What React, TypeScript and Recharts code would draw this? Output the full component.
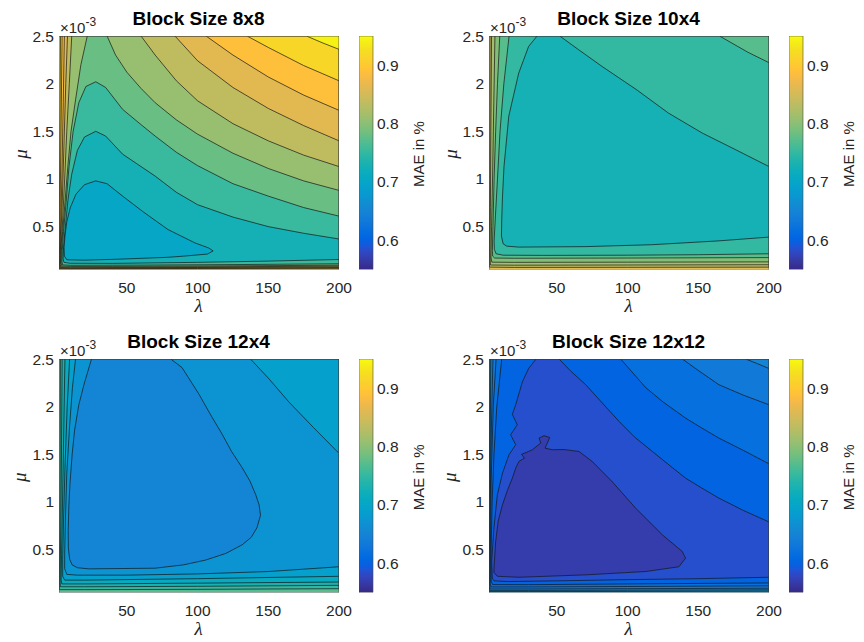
import React from 'react';
import { ScatterChart, Scatter, XAxis, YAxis, BarChart, Bar } from 'recharts';

type Pt = [number, number];

// axes
const lambdaRange: [number, number] = [2, 200];
const muRange: [number, number] = [0.05, 2.5];
const lambdaTicks = [50, 100, 150, 200];
const muTicks = [0.5, 1, 1.5, 2, 2.5];
const maeRange: [number, number] = [0.55, 0.95];
const maeTicks = [0.6, 0.7, 0.8, 0.9];
const titles = ['Block Size 8x8', 'Block Size 10x4', 'Block Size 12x4', 'Block Size 12x12'];

// MAE value of every filled band, innermost first (last one = outermost band)
const levels8x8 = [0.7, 0.727, 0.754, 0.781, 0.808, 0.835, 0.862, 0.889, 0.916, 0.943];
const levels10x4 = [0.728, 0.75, 0.772, 0.794, 0.816, 0.838, 0.86];
const levels12x4 = [0.652, 0.672, 0.69, 0.71, 0.73, 0.75, 0.77];
const levels12x12 = [0.568, 0.585, 0.602, 0.618, 0.635, 0.652, 0.669, 0.686];

// contour regions {MAE < level k} as (lambda, mu*1e3) outlines
const regions8x8: Pt[][] = [
  [[5.6, 0.28], [6.2, 0.4], [7.5, 0.55], [10, 0.7], [14, 0.84], [20, 0.94], [28, 0.98], [36, 0.95], [47, 0.82], [62, 0.65], [79, 0.47], [98, 0.33], [108, 0.275], [111, 0.245], [107, 0.212], [90, 0.19], [79, 0.178], [44, 0.158], [20, 0.148], [7.5, 0.152], [5.8, 0.19]],
  [[200, 0.37], [175, 0.43], [150, 0.5], [125, 0.6], [100, 0.73], [85, 0.86], [70, 1.03], [60, 1.13], [47, 1.26], [35, 1.45], [28, 1.5], [20, 1.44], [15, 1.3], [11, 1.05], [8.5, 0.8], [6.5, 0.5], [5.2, 0.28], [4.9, 0.16], [5.5, 0.125], [10, 0.115], [40, 0.114], [100, 0.125], [150, 0.138], [200, 0.155]],
  [[200, 0.61], [175, 0.7], [150, 0.82], [125, 0.95], [100, 1.14], [85, 1.28], [70, 1.45], [60, 1.57], [47, 1.73], [35, 1.96], [28, 2.02], [21, 1.97], [16, 1.8], [12, 1.5], [9, 1.12], [7, 0.75], [5.2, 0.45], [4.3, 0.25], [4.1, 0.13], [4.6, 0.098], [10, 0.094], [60, 0.096], [130, 0.102], [200, 0.11]],
  [[36, 2.5], [42, 2.3], [50, 2.12], [60, 1.95], [70, 1.8], [85, 1.62], [100, 1.47], [125, 1.27], [150, 1.11], [175, 0.98], [200, 0.88], [200, 0.095], [120, 0.088], [40, 0.083], [10, 0.082], [4, 0.086], [3.5, 0.12], [3.7, 0.25], [4.6, 0.45], [6.2, 0.75], [8.3, 1.14], [10.5, 1.5], [13.7, 1.83], [17.5, 2.2], [22, 2.5]],
  [[60, 2.5], [70, 2.3], [85, 2.03], [100, 1.82], [125, 1.58], [150, 1.4], [175, 1.25], [200, 1.13], [200, 0.085], [120, 0.079], [40, 0.075], [10, 0.074], [3.5, 0.076], [3.0, 0.1], [3.3, 0.25], [4.5, 0.55], [6, 1.0], [7.5, 1.5], [9.3, 2.0], [11, 2.5]],
  [[84, 2.5], [100, 2.24], [125, 1.96], [150, 1.74], [175, 1.56], [200, 1.4], [200, 0.077], [100, 0.071], [10, 0.068], [3, 0.07], [2.7, 0.12], [3.2, 0.35], [4.4, 0.8], [5.6, 1.4], [6.8, 2.0], [8, 2.5]],
  [[106, 2.5], [125, 2.3], [150, 2.07], [175, 1.88], [200, 1.72], [200, 0.07], [100, 0.066], [10, 0.063], [2.7, 0.064], [2.5, 0.12], [3, 0.4], [4, 1.0], [5, 1.8], [5.8, 2.5]],
  [[135, 2.5], [150, 2.38], [175, 2.19], [200, 2.03], [200, 0.064], [100, 0.061], [10, 0.059], [2.3, 0.06], [2.3, 0.2], [2.8, 0.7], [3.5, 1.6], [4.2, 2.5]],
  [[177, 2.5], [188, 2.43], [200, 2.36], [200, 0.058], [100, 0.056], [10, 0.055], [2.1, 0.055], [2.2, 0.5], [2.6, 1.5], [3.1, 2.5]],
];

const regions10x4: Pt[][] = [
  [[36, 2.5], [30, 2.39], [23, 2.11], [16, 1.66], [12.6, 1.13], [11.5, 0.8], [11, 0.57], [10.8, 0.4], [12, 0.32], [14.5, 0.295], [23, 0.285], [70, 0.29], [117, 0.31], [164, 0.35], [200, 0.39], [200, 1.13], [176, 1.31], [153, 1.48], [129, 1.69], [106, 1.94], [82, 2.18], [65, 2.36], [52, 2.5]],
  [[16.2, 2.5], [165, 2.5], [185, 2.33], [200, 2.22], [200, 0.215], [150, 0.205], [100, 0.2], [40, 0.198], [12, 0.2], [7, 0.215], [5.8, 0.26], [5.6, 0.35], [6.5, 0.6], [8, 1.0], [9.8, 1.5], [12.5, 2.0]],
  [[9.6, 2.5], [200, 2.5], [200, 0.175], [100, 0.17], [20, 0.168], [6, 0.17], [4.6, 0.19], [4.4, 0.25], [4.8, 0.5], [5.6, 1.0], [6.7, 1.5], [8, 2.0]],
  [[6.2, 2.5], [200, 2.5], [200, 0.13], [100, 0.127], [20, 0.125], [4, 0.127], [3.4, 0.18], [3.8, 0.5], [4.5, 1.0], [5.4, 1.8]],
  [[3.8, 2.5], [200, 2.5], [200, 0.1], [100, 0.097], [20, 0.095], [3, 0.097], [2.7, 0.25], [3.0, 0.7], [3.3, 1.5]],
  [[2.7, 2.5], [200, 2.5], [200, 0.075], [100, 0.073], [20, 0.072], [2.3, 0.075], [2.3, 0.3], [2.5, 1.0]],
];

const regions12x4: Pt[][] = [
  [[25, 2.5], [20, 2.25], [16, 2.02], [13, 1.75], [11.3, 1.5], [9.8, 1.2], [9, 0.97], [8.5, 0.7], [8.6, 0.52], [9.5, 0.4], [11.3, 0.34], [15, 0.31], [23, 0.298], [70, 0.305], [90, 0.34], [105.6, 0.39], [120, 0.46], [131.5, 0.55], [138, 0.63], [142, 0.73], [144.5, 0.86], [143.5, 0.97], [141, 1.08], [137, 1.22], [131.5, 1.36], [124, 1.53], [117.4, 1.71], [109, 1.92], [101, 2.13], [95, 2.27], [89, 2.41], [81, 2.5]],
  [[13.7, 2.5], [137.4, 2.5], [150, 2.3], [164.5, 2.05], [182, 1.78], [200, 1.51], [200, 0.32], [150, 0.27], [100, 0.245], [50, 0.232], [15, 0.232], [7.5, 0.24], [6, 0.3], [6, 0.45], [6.5, 0.8], [7.5, 1.3], [9.5, 1.8], [11.5, 2.2]],
  [[9.5, 2.5], [200, 2.5], [200, 0.22], [100, 0.195], [20, 0.18], [6, 0.18], [4.6, 0.22], [4.6, 0.4], [5.2, 0.8], [6.3, 1.4], [7.8, 2.0]],
  [[6.2, 2.5], [200, 2.5], [200, 0.16], [100, 0.148], [20, 0.14], [4, 0.14], [3.5, 0.18], [3.8, 0.45], [4.5, 1.0], [5.4, 1.8]],
  [[4.2, 2.5], [200, 2.5], [200, 0.125], [100, 0.115], [20, 0.11], [3, 0.11], [2.8, 0.16], [2.9, 0.3], [3.3, 0.8], [3.8, 1.6]],
  [[3, 2.5], [200, 2.5], [200, 0.09], [100, 0.083], [20, 0.08], [2.3, 0.08], [2.3, 0.2], [2.5, 0.6], [2.8, 1.5]],
];

const regions12x12: Pt[][] = [
  [[5.5, 0.3], [6.7, 0.585], [8.5, 0.8], [11.5, 0.97], [15, 1.12], [18.5, 1.25], [21, 1.36], [23.2, 1.425], [27, 1.46], [25, 1.5], [30, 1.53], [32.7, 1.548], [38.6, 1.618], [37.4, 1.67], [40.9, 1.695], [44.9, 1.677], [43.3, 1.618], [41.6, 1.565], [46.8, 1.548], [55, 1.55], [65.6, 1.53], [75, 1.425], [89.3, 1.21], [105.7, 0.935], [124.6, 0.655], [138.7, 0.48], [141, 0.41], [136.3, 0.32], [112.8, 0.27], [70.4, 0.235], [23.2, 0.21], [7.9, 0.22], [5.5, 0.26]],
  [[35.3, 2.5], [51.5, 2.5], [60, 2.37], [70.4, 2.23], [82, 2.04], [94, 1.845], [105, 1.68], [117.5, 1.53], [130, 1.38], [141, 1.25], [152, 1.15], [164.6, 1.04], [182, 0.91], [200, 0.79], [200, 0.21], [150, 0.195], [100, 0.185], [50, 0.172], [15, 0.165], [5.5, 0.172], [4.3, 0.2], [3.9, 0.375], [5.5, 0.73], [7.9, 1.075], [11.5, 1.3], [16.1, 1.495], [20.9, 1.6], [17.3, 1.705], [22, 1.81], [18.5, 1.92], [20.9, 2.02], [25.6, 2.26], [30, 2.4]],
  [[11, 2.5], [95.1, 2.5], [112.8, 2.2], [125, 2.05], [141, 1.88], [152, 1.78], [164.6, 1.67], [182, 1.54], [200, 1.4], [200, 0.15], [100, 0.14], [30, 0.132], [4.5, 0.133], [3.5, 0.17], [3.4, 0.4], [4.2, 1.0], [5.5, 1.5], [7.5, 2.0]],
  [[7, 2.5], [138.7, 2.5], [150, 2.38], [164.6, 2.23], [182, 2.12], [200, 2.02], [200, 0.12], [100, 0.113], [30, 0.108], [3.5, 0.108], [2.9, 0.14], [2.9, 0.4], [3.5, 1.2], [5, 2.0]],
  [[4.8, 2.5], [183.5, 2.5], [192, 2.45], [200, 2.4], [200, 0.095], [100, 0.09], [30, 0.087], [2.8, 0.087], [2.5, 0.12], [2.6, 0.5], [3.2, 1.4], [4, 2.0]],
  [[3.3, 2.5], [200, 2.5], [200, 0.078], [100, 0.074], [30, 0.072], [2.4, 0.072], [2.3, 0.3], [2.7, 1.3]],
  [[2.6, 2.5], [200, 2.5], [200, 0.064], [100, 0.061], [30, 0.06], [2.2, 0.06], [2.2, 1.0]],
];

const panelData = [
  { levels: levels8x8, regions: regions8x8 },
  { levels: levels10x4, regions: regions10x4 },
  { levels: levels12x4, regions: regions12x4 },
  { levels: levels12x12, regions: regions12x12 },
];

// parula colormap, 64 steps
const PARULA = [
  [0.2081, 0.1663, 0.5292], [0.2116, 0.1898, 0.5777], [0.2123, 0.2138, 0.627], [0.2081, 0.2386, 0.6771],
  [0.1959, 0.2645, 0.7279], [0.1707, 0.2919, 0.7792], [0.1253, 0.3242, 0.8303], [0.0591, 0.3598, 0.8683],
  [0.0117, 0.3875, 0.882], [0.006, 0.4086, 0.8828], [0.0165, 0.4266, 0.8786], [0.0329, 0.443, 0.872],
  [0.0498, 0.4586, 0.8641], [0.0629, 0.4737, 0.8554], [0.0723, 0.4887, 0.8467], [0.0779, 0.504, 0.8384],
  [0.0793, 0.52, 0.8312], [0.0749, 0.5375, 0.8263], [0.0641, 0.557, 0.824], [0.0488, 0.5772, 0.8228],
  [0.0343, 0.5966, 0.8199], [0.0265, 0.6137, 0.8135], [0.0239, 0.6287, 0.8038], [0.0231, 0.6418, 0.7913],
  [0.0228, 0.6535, 0.7768], [0.0267, 0.6642, 0.7607], [0.0384, 0.6743, 0.7436], [0.059, 0.6838, 0.7254],
  [0.0843, 0.6928, 0.7062], [0.1133, 0.7015, 0.6859], [0.1453, 0.7098, 0.6646], [0.1801, 0.7177, 0.6424],
  [0.2178, 0.725, 0.6193], [0.2586, 0.7317, 0.5954], [0.3022, 0.7376, 0.5712], [0.3482, 0.7424, 0.5473],
  [0.3953, 0.7459, 0.5244], [0.442, 0.7481, 0.5033], [0.4871, 0.7491, 0.484], [0.53, 0.7491, 0.4661],
  [0.5709, 0.7485, 0.4494], [0.6099, 0.7473, 0.4337], [0.6473, 0.7456, 0.4188], [0.6834, 0.7435, 0.4044],
  [0.7184, 0.7411, 0.3905], [0.7525, 0.7384, 0.3768], [0.7858, 0.7356, 0.3633], [0.8185, 0.7327, 0.3498],
  [0.8507, 0.7299, 0.336], [0.8824, 0.7274, 0.3217], [0.9139, 0.7258, 0.3063], [0.945, 0.7261, 0.2886],
  [0.9739, 0.7314, 0.2666], [0.9938, 0.7455, 0.2403], [0.999, 0.7653, 0.2164], [0.9955, 0.7861, 0.1967],
  [0.988, 0.8066, 0.1794], [0.9789, 0.8271, 0.1633], [0.9697, 0.8481, 0.1475], [0.9626, 0.8705, 0.1309],
  [0.9589, 0.8949, 0.1132], [0.9598, 0.9218, 0.0948], [0.9661, 0.9514, 0.0755], [0.9763, 0.9831, 0.0538],
];

const rgb = (c: number[]) => `rgb(${c.map((a) => Math.round(a * 255)).join(',')})`;

function parula(v: number) {
  const t = Math.min(1, Math.max(0, (v - maeRange[0]) / (maeRange[1] - maeRange[0])));
  const f = t * (PARULA.length - 1);
  const i = Math.floor(f);
  const j = Math.min(PARULA.length - 1, i + 1);
  const w = f - i;
  return rgb(PARULA[i].map((a, k) => a + (PARULA[j][k] - a) * w));
}

// layout (page pixels)
const PLOT_L = 58.5;
const PLOT_T = 36;
const PLOT_W = 280;
const PLOT_H = 233.5;
const Y_AXIS_W = 40;
const X_AXIS_H = 30;
const PAD_T = 12;
const PAD_R = 16;
const CB_L = 359;
const CB_W = 14;
const offsets = [
  { dx: 0, dy: 0 },
  { dx: 430, dy: 0 },
  { dx: 0, dy: 323.3 },
  { dx: 430, dy: 323.3 },
];

const FONT = '"Liberation Sans", Arial, Helvetica, sans-serif';
const SERIF = '"Liberation Serif", "DejaVu Serif", serif';
const tickStyle = { fill: '#262626', fontSize: 15.5, fontFamily: FONT };

const noShape = () => <g />;

function filledOutline(fill: string, stroke: string, width: number) {
  return (p: any) => {
    const pts = (p.points || []).filter((q: any) => q.x != null && q.y != null);
    if (!pts.length) return <g />;
    const d = pts.map((q: any, i: number) => `${i ? 'L' : 'M'}${q.x.toFixed(2)},${q.y.toFixed(2)}`).join('') + 'Z';
    return <path d={d} fill={fill} stroke={stroke} strokeWidth={width} strokeLinejoin="round" />;
  };
}

const toPoints = (poly: Pt[]) => poly.map(([x, y]) => ({ x, y }));

function ContourChart({ levels, regions, dx, dy }: { levels: number[]; regions: Pt[][]; dx: number; dy: number }) {
  const frame: Pt[] = [
    [lambdaRange[0], muRange[0]],
    [lambdaRange[1], muRange[0]],
    [lambdaRange[1], muRange[1]],
    [lambdaRange[0], muRange[1]],
  ];
  const layers = [
    { poly: frame, fill: parula(levels[regions.length]), stroke: 'none', w: 0 },
    ...regions.map((poly, k) => ({ poly, fill: parula(levels[k]), stroke: '#161616', w: 0.7 })).reverse(),
    { poly: frame, fill: 'none', stroke: '#4a4a4a', w: 0.8 },
  ];

  return (
    <div style={{ position: 'absolute', left: PLOT_L + dx - Y_AXIS_W, top: PLOT_T + dy - PAD_T }}>
      <ScatterChart
        width={Y_AXIS_W + PLOT_W + PAD_R}
        height={PAD_T + PLOT_H + X_AXIS_H}
        margin={{ top: PAD_T, right: PAD_R, left: 0, bottom: 0 }}
      >
        <XAxis
          type="number"
          dataKey="x"
          domain={lambdaRange}
          allowDataOverflow
          ticks={lambdaTicks}
          interval={0}
          height={X_AXIS_H}
          axisLine={false}
          tickLine={false}
          tickSize={10}
          tickMargin={2}
          tick={tickStyle}
        />
        <YAxis
          type="number"
          dataKey="y"
          domain={muRange}
          allowDataOverflow
          ticks={muTicks}
          interval={0}
          width={Y_AXIS_W}
          axisLine={false}
          tickLine={false}
          tickSize={4}
          tickMargin={1}
          tick={tickStyle}
        />
        {layers.map((l, i) => (
          <Scatter
            key={i}
            data={toPoints(l.poly)}
            isAnimationActive={false}
            shape={noShape}
            legendType="none"
            line={filledOutline(l.fill, l.stroke, l.w)}
          />
        ))}
      </ScatterChart>
    </div>
  );
}

const colorbarData = [{ name: 'MAE', value: maeRange[1] }];

function Colorbar({ dx, dy }: { dx: number; dy: number }) {
  return (
    <div style={{ position: 'absolute', left: CB_L + dx, top: PLOT_T + dy - PAD_T }}>
      <BarChart
        width={CB_W + 40}
        height={PLOT_H + 2 * PAD_T}
        data={colorbarData}
        margin={{ top: PAD_T, right: 0, left: 0, bottom: PAD_T }}
        barCategoryGap={0}
      >
        <XAxis dataKey="name" hide />
        <YAxis
          orientation="right"
          type="number"
          domain={maeRange}
          allowDataOverflow
          ticks={maeTicks}
          interval={0}
          width={40}
          axisLine={false}
          tickLine={false}
          tickSize={3}
          tickMargin={1}
          tick={tickStyle}
        />
        <Bar dataKey="value" fill="url(#parulaGrad)" stroke="#4a4a4a" strokeWidth={0.6} isAnimationActive={false} />
      </BarChart>
    </div>
  );
}

export default function App() {
  return (
    <div style={{ position: 'absolute', left: 0, top: 0, width: 864, height: 642, background: '#fff', overflow: 'hidden' }}>
      {panelData.map((p, i) => (
        <React.Fragment key={i}>
          <ContourChart levels={p.levels} regions={p.regions} dx={offsets[i].dx} dy={offsets[i].dy} />
          <Colorbar dx={offsets[i].dx} dy={offsets[i].dy} />
        </React.Fragment>
      ))}
      <svg width={864} height={642} style={{ position: 'absolute', left: 0, top: 0, pointerEvents: 'none' }}>
        <defs>
          <linearGradient id="parulaGrad" x1="0" y1="1" x2="0" y2="0">
            {PARULA.map((c, i) => (
              <stop key={i} offset={i / (PARULA.length - 1)} stopColor={rgb(c)} />
            ))}
          </linearGradient>
        </defs>
        {offsets.map(({ dx, dy }, i) => (
          <g key={i} fontFamily={FONT}>
            <text x={198.5 + dx} y={25 + dy} textAnchor="middle" fontSize={19} fontWeight="bold" fill="#000">
              {titles[i]}
            </text>
            <text x={60 + dx} y={32.5 + dy} fontSize={15} fill="#262626">
              ×10<tspan dy={-7} fontSize={12}>-3</tspan>
            </text>
            <text
              x={20 + dx}
              y={154 + dy}
              transform={`rotate(-90 ${20 + dx} ${154 + dy})`}
              textAnchor="middle"
              dominantBaseline="central"
              fontSize={19}
              fontStyle="italic"
              fontFamily={SERIF}
              fill="#262626"
            >
              μ
            </text>
            <text
              x={198.5 + dx}
              y={312 + dy}
              textAnchor="middle"
              fontSize={19}
              fontStyle="italic"
              fontFamily={SERIF}
              fill="#262626"
            >
              λ
            </text>
            <text
              x={418.5 + dx}
              y={154 + dy}
              transform={`rotate(-90 ${418.5 + dx} ${154 + dy})`}
              textAnchor="middle"
              dominantBaseline="central"
              fontSize={15}
              fill="#262626"
            >
              MAE in %
            </text>
          </g>
        ))}
      </svg>
    </div>
  );
}
